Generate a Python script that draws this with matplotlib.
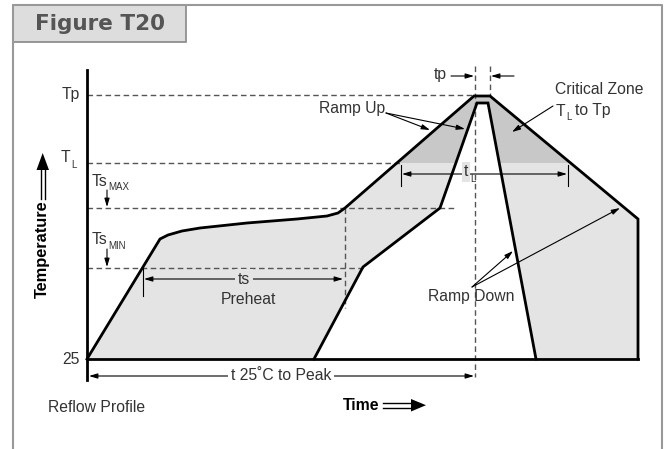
# Reflow profile diagram (Figure T20)
import matplotlib
matplotlib.use("Agg")
import matplotlib.pyplot as plt
from matplotlib.patches import Polygon, Rectangle

plt.rcParams["font.family"] = ["Liberation Sans", "DejaVu Sans"]

# diagram units = pixel grid of the 667x449 picture (y grows downward)
# levels on the temperature axis
lvl_names = ["Tp", "TL", "TsMAX", "TsMIN", "25"]
lvl_y = [95, 163, 208, 268, 359]
lvl_dash_end = [474, 400, 457, 363, None]

# outer profile (slow edge of the window)
outer_x = [87, 160, 168, 182, 200, 247, 297, 327, 338, 345, 474, 490, 638, 638]
outer_y = [359, 239, 235, 231, 228, 223, 219, 216, 213, 208, 96, 96, 219, 359]

# inner profile (fast edge of the window), right to left
inner_x = [536, 488, 477, 440, 363, 314]
inner_y = [359, 103, 103, 208, 267, 359]

ink = "#333333"
dash_col = "#555555"
light = "#e4e4e4"
dark = "#c8c8c8"
lw = 2.0

fig = plt.figure(figsize=(6.67, 4.49), dpi=100)
ax = fig.add_axes([0, 0, 1, 1])
ax.set_xlim(0, 667)
ax.set_ylim(449, 0)
ax.axis("off")

# frame and title tab
ax.plot([13, 13, 662, 662], [449, 5, 5, 449], color="#999999", lw=1.5)
ax.add_patch(Rectangle((13, 5), 173, 37, facecolor="#dddddd", edgecolor="#888888", lw=1.2))
ax.text(100, 24, "Figure T20", fontsize=15.5, fontweight="bold", color="#555555",
        ha="center", va="center", family=["DejaVu Sans"])

# window fill
poly_x = outer_x + inner_x
poly_y = outer_y + inner_y
ax.add_patch(Polygon(list(zip(poly_x, poly_y)), closed=True, facecolor=light, edgecolor="none", zorder=1))
crit = Polygon(list(zip(poly_x, poly_y)), closed=True, facecolor=dark, edgecolor="none", zorder=1)
ax.add_patch(crit)
clip = Rectangle((0, 0), 667, lvl_y[1], transform=ax.transData)
crit.set_clip_path(clip)

# dashed level lines
for y, xe in zip(lvl_y, lvl_dash_end):
    if xe is not None:
        ax.plot([87, xe], [y, y], color=dash_col, lw=1, ls=(0, (4, 2.5)), zorder=2)
# dashed vertical lines
ax.plot([475, 475], [66, 377], color=dash_col, lw=1, ls=(0, (4, 2.5)), zorder=2)
ax.plot([490, 490], [66, 96], color=dash_col, lw=1, ls=(0, (4, 2.5)), zorder=2)
ax.plot([345, 345], [208, 308], color=dash_col, lw=1, ls=(0, (4, 2.5)), zorder=2)

# profile outlines
ax.plot(outer_x, outer_y, color="black", lw=lw, solid_joinstyle="miter", zorder=3)
ax.plot(inner_x, inner_y, color="black", lw=lw, solid_joinstyle="miter", zorder=3)
# axes
ax.plot([87, 87], [70, 380], color="black", lw=lw, zorder=3)
ax.plot([87, 638], [359, 359], color="black", lw=lw, zorder=3)

# level labels
fs = 11.3
sub = 7
ax.text(80, 95, "Tp", fontsize=fs, color=ink, ha="right", va="center")
ax.text(61, 158, "T", fontsize=fs, color=ink, ha="left", va="center")
ax.text(71.5, 165, "L", fontsize=sub, color=ink, ha="left", va="center")
ax.text(92, 181, "Ts", fontsize=fs, color=ink, ha="left", va="center")
ax.text(108, 187, "MAX", fontsize=sub, color=ink, ha="left", va="center")
ax.text(92, 240, "Ts", fontsize=fs, color=ink, ha="left", va="center")
ax.text(108, 246, "MIN", fontsize=sub, color=ink, ha="left", va="center")
ax.text(80, 359, "25", fontsize=fs, color=ink, ha="right", va="center")

arr = dict(arrowstyle="-|>,head_length=0.5,head_width=0.15", color="black", lw=0.8, shrinkA=0, shrinkB=0)
arr2 = dict(arrowstyle="<|-|>,head_length=0.5,head_width=0.15", color="black", lw=0.8, shrinkA=0, shrinkB=0)

ax.annotate("", xy=(107, 207), xytext=(107, 190), arrowprops=arr)
ax.annotate("", xy=(107, 267), xytext=(107, 249), arrowprops=arr)

# temperature label with double arrow
ax.text(42, 249, "Temperature", fontsize=11.8, fontweight="bold", color="black",
        rotation=90, ha="center", va="center")
ax.plot([40.5, 40.5], [168, 199], color="black", lw=1)
ax.plot([45, 45], [168, 199], color="black", lw=1)
ax.add_patch(Polygon([(36.5, 170), (49, 170), (42.7, 153)], closed=True, facecolor="black"))

# time label with double arrow
ax.text(379, 405, "Time", fontsize=11.3, fontweight="bold", color="black", ha="right", va="center")
ax.plot([383, 414], [403, 403], color="black", lw=1)
ax.plot([383, 414], [407.5, 407.5], color="black", lw=1)
ax.add_patch(Polygon([(411, 399), (411, 411.5), (426, 405.2)], closed=True, facecolor="black"))

ax.text(48, 407, "Reflow Profile", fontsize=fs, color=ink, ha="left", va="center")

# t 25C to peak
ax.annotate("", xy=(474, 376), xytext=(89, 376), arrowprops=arr2)
ax.text(281, 375, "t 25˚C to Peak", fontsize=fs, color=ink, ha="center", va="center",
        bbox=dict(facecolor="white", edgecolor="none", pad=2))

# ts preheat
ax.plot([143, 143], [268, 296], color="black", lw=0.8)
ax.annotate("", xy=(343, 279), xytext=(144, 279), arrowprops=arr2)
ax.text(244, 279, "ts", fontsize=fs, color=ink, ha="center", va="center",
        bbox=dict(facecolor=light, edgecolor="none", pad=2))
ax.text(248, 299, "Preheat", fontsize=fs, color=ink, ha="center", va="center")

# tL
ax.plot([401, 401], [165, 186], color="black", lw=0.8)
ax.plot([568, 568], [165, 186], color="black", lw=0.8)
ax.annotate("", xy=(567, 174), xytext=(402, 174), arrowprops=arr2)
ax.text(464, 172, "t", fontsize=fs, color=ink, ha="left", va="center",
        bbox=dict(facecolor=light, edgecolor="none", pad=1.5))
ax.text(470, 179, "L", fontsize=sub, color=ink, ha="left", va="center")

# tp
ax.text(447, 75, "tp", fontsize=fs, color=ink, ha="right", va="center")
ax.annotate("", xy=(474, 76), xytext=(451, 76), arrowprops=arr)
ax.annotate("", xy=(491, 76), xytext=(514, 76), arrowprops=arr)

# critical zone
ax.text(555, 89, "Critical Zone", fontsize=fs, color=ink, ha="left", va="center")
ax.text(556, 111, "T", fontsize=fs, color=ink, ha="left", va="center")
ax.text(566, 117, "L", fontsize=sub, color=ink, ha="left", va="center")
ax.text(575, 111, "to Tp", fontsize=fs, color=ink, ha="left", va="center")
ax.annotate("", xy=(512, 132), xytext=(553, 106), arrowprops=arr)

# ramp up
ax.text(385, 108, "Ramp Up", fontsize=fs, color=ink, ha="right", va="center")
ax.annotate("", xy=(430, 130), xytext=(386, 113), arrowprops=arr)
ax.annotate("", xy=(465, 129), xytext=(386, 113), arrowprops=arr)

# ramp down
ax.text(428, 297, "Ramp Down", fontsize=fs, color=ink, ha="left", va="center")
ax.annotate("", xy=(513, 251), xytext=(472, 287), arrowprops=arr)
ax.annotate("", xy=(620, 208), xytext=(472, 287), arrowprops=arr)

fig.savefig("out.png", dpi=100)
